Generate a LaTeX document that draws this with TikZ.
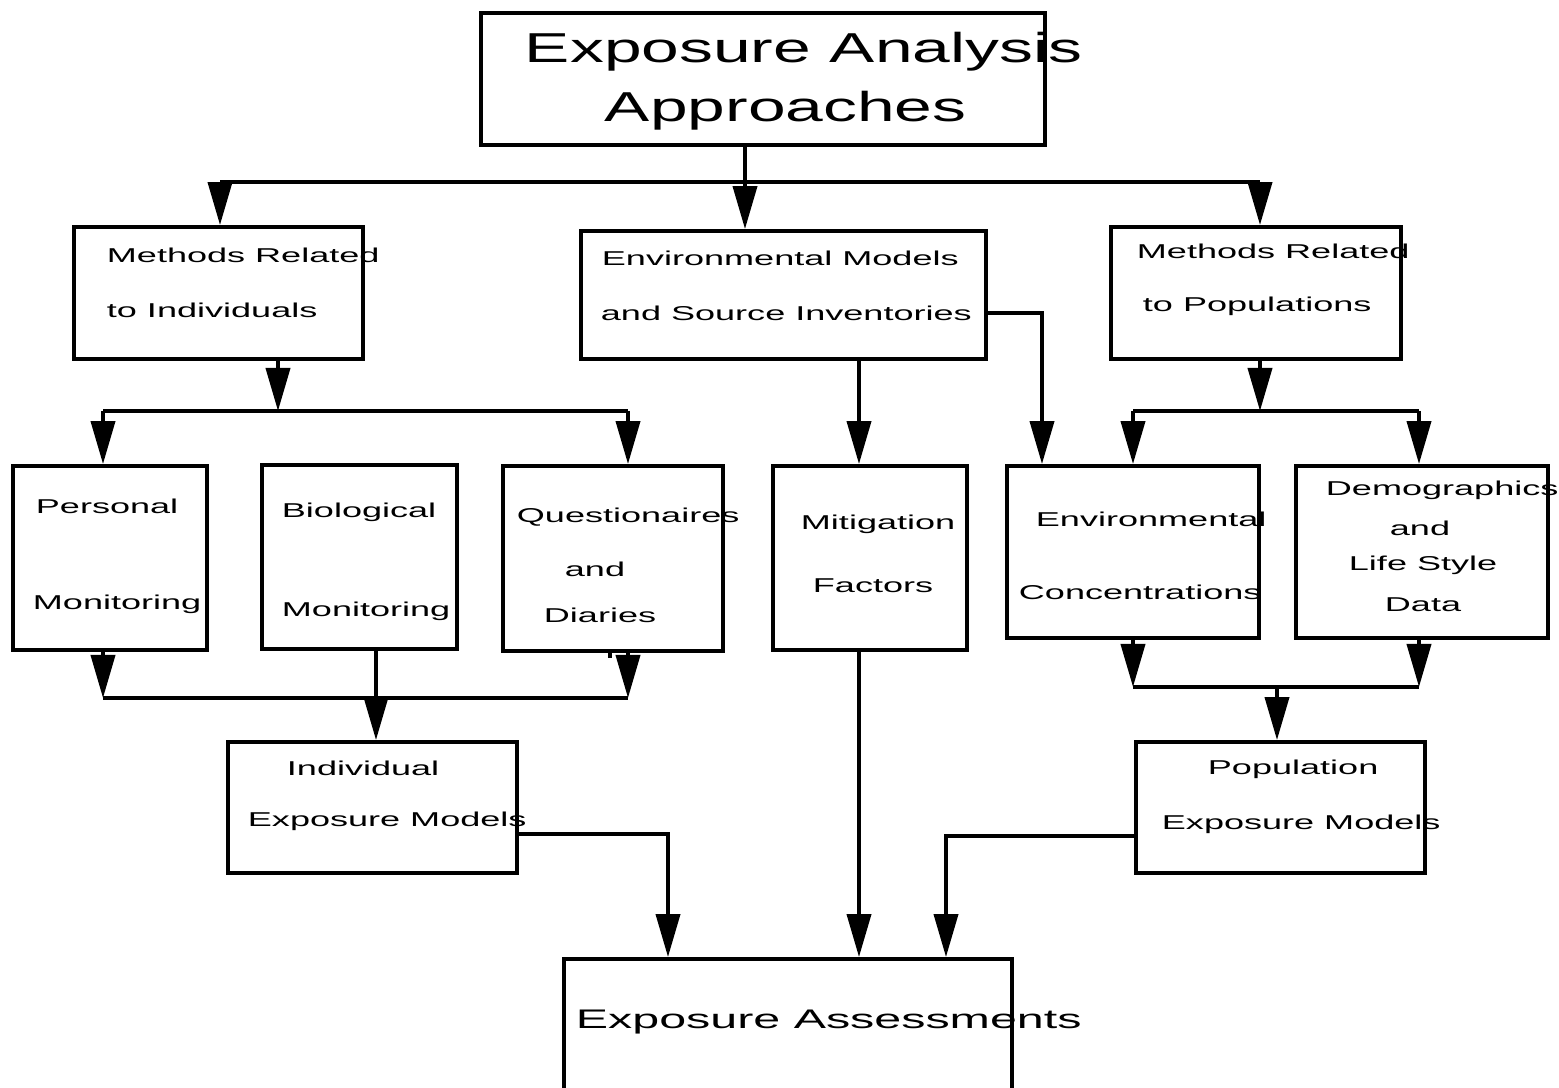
\documentclass[tikz,border=0pt]{standalone}
\usepackage{fontspec}
\usepackage{tikz}
\usetikzlibrary{arrows.meta}
\newfontfamily\boxfont[FakeStretch=1.8]{Liberation Sans}
\newfontfamily\headfont[FakeStretch=1.62]{Liberation Sans}

\begin{document}
\begin{tikzpicture}[x=0.1mm, y=-0.1mm, line width=1.1pt]
        \tikzstyle{box}=[draw, rectangle, inner sep=0pt, line width=1.1pt]
        \tikzstyle{lbl}=[anchor=base west, inner sep=0pt, font=\boxfont\fontsize{5.7pt}{6pt}\selectfont]
        \tikzstyle{head}=[anchor=base west, inner sep=0pt, font=\headfont\fontsize{11.9pt}{13pt}\selectfont]
        \tikzstyle{foot}=[anchor=base west, inner sep=0pt, font=\boxfont\fontsize{7.65pt}{8pt}\selectfont]
        \tikzstyle{arr}=[-{Triangle[length=4.3mm, width=2.4mm]}]
        \useasboundingbox (0,0) rectangle (1559,1088);
        % boxes
        \node [box, minimum width=56.4mm, minimum height=13.2mm] (top) at (763, 79) {};
        \node [box, minimum width=28.9mm, minimum height=13.2mm] (ind) at (218.5, 293) {};
        \node [box, minimum width=40.5mm, minimum height=12.8mm] (env) at (783.5, 295) {};
        \node [box, minimum width=29.0mm, minimum height=13.2mm] (pop) at (1256, 293) {};
        \node [box, minimum width=19.4mm, minimum height=18.4mm] (pers) at (110, 558) {};
        \node [box, minimum width=19.5mm, minimum height=18.4mm] (bio) at (359.5, 557) {};
        \node [box, minimum width=22.0mm, minimum height=18.5mm] (quest) at (613, 558.5) {};
        \node [box, minimum width=19.4mm, minimum height=18.4mm] (mitig) at (870, 558) {};
        \node [box, minimum width=25.2mm, minimum height=17.2mm] (conc) at (1133, 552) {};
        \node [box, minimum width=25.2mm, minimum height=17.2mm] (demo) at (1422, 552) {};
        \node [box, minimum width=28.9mm, minimum height=13.1mm] (indm) at (372.5, 807.5) {};
        \node [box, minimum width=28.9mm, minimum height=13.1mm] (popm) at (1280.5, 807.5) {};
        \node [box, minimum width=44.8mm, minimum height=17.1mm] (assess) at (788, 1044.5) {};
        % texts
        \node [head] (h1) at (523, 63) {Exposure Analysis};
        \node [head] (h2) at (603, 122) {Approaches};
        \node [lbl] (ind1) at (105, 263) {Methods Related};
        \node [lbl] (ind2) at (105, 318) {to Individuals};
        \node [lbl] (env1) at (600, 266) {Environmental Models};
        \node [lbl] (env2) at (599, 321) {and Source Inventories};
        \node [lbl] (pop1) at (1135, 259) {Methods Related};
        \node [lbl] (pop2) at (1141, 312) {to Populations};
        \node [lbl] (pers1) at (34, 514) {Personal};
        \node [lbl] (pers2) at (31, 610) {Monitoring};
        \node [lbl] (bio1) at (280, 518) {Biological};
        \node [lbl] (bio2) at (280, 617) {Monitoring};
        \node [lbl] (q1) at (515, 523) {Questionaires};
        \node [lbl] (q2) at (563, 577) {and};
        \node [lbl] (q3) at (542, 623) {Diaries};
        \node [lbl] (m1) at (799, 530) {Mitigation};
        \node [lbl] (m2) at (811, 593) {Factors};
        \node [lbl] (c1) at (1034, 527) {Environmental};
        \node [lbl] (c2) at (1017, 600) {Concentrations};
        \node [lbl] (d1) at (1324, 496) {Demographics};
        \node [lbl] (d2) at (1388, 536) {and};
        \node [lbl] (d3) at (1347, 571) {Life Style};
        \node [lbl] (d4) at (1383, 612) {Data};
        \node [lbl] (im1) at (285, 776) {Individual};
        \node [lbl] (im2) at (246, 827) {Exposure Models};
        \node [lbl] (pm1) at (1206, 775) {Population};
        \node [lbl] (pm2) at (1160, 830) {Exposure Models};
        \node [foot] (a1) at (574, 1029) {Exposure Assessments};
        % bus points
        \coordinate (tl) at (220, 182);
        \coordinate (tm) at (745, 182);
        \coordinate (tr) at (1260, 182);
        \coordinate (la) at (103, 411);
        \coordinate (lm) at (278, 411);
        \coordinate (lb) at (628, 411);
        \coordinate (ma) at (103, 698);
        \coordinate (mm) at (376, 698);
        \coordinate (mb) at (628, 698);
        \coordinate (qt) at (610, 658);
        \coordinate (em) at (859, 411);
        \coordinate (ec) at (1042, 313);
        \coordinate (ra) at (1133, 411);
        \coordinate (rm) at (1260, 411);
        \coordinate (rb) at (1419, 411);
        \coordinate (sa) at (1133, 687);
        \coordinate (sm) at (1277, 687);
        \coordinate (sb) at (1419, 687);
        \coordinate (ia) at (668, 834);
        \coordinate (pa) at (946, 836);
        % connectors
        \draw (top.south -| tm) -- (tm);
        \draw (tl) -- (tr);
        \draw[arr] (tl) -- (tl |- ind.north);
        \draw[arr] (tm) -- (tm |- env.north);
        \draw[arr] (tr) -- (tr |- pop.north);
        \draw[arr] (ind.south -| lm) -- (lm);
        \draw (la) -- (lb);
        \draw[arr] (la) -- (la |- pers.north);
        \draw[arr] (lb) -- (lb |- quest.north);
        \draw[arr] (pers.south -| ma) -- (ma);
        \draw[arr] (quest.south -| mb) -- (mb);
        \draw (quest.south -| qt) -- (qt);
        \draw (ma) -- (mb);
        \draw (bio.south -| mm) -- (mm);
        \draw[arr] (mm) -- (mm |- indm.north);
        \draw[arr] (env.south -| em) -- (em |- mitig.north);
        \draw[arr] (env.east |- ec) -- (ec) -- (ec |- conc.north);
        \draw[arr] (pop.south -| rm) -- (rm);
        \draw (ra) -- (rb);
        \draw[arr] (ra) -- (ra |- conc.north);
        \draw[arr] (rb) -- (rb |- demo.north);
        \draw[arr] (conc.south -| sa) -- (sa);
        \draw[arr] (demo.south -| sb) -- (sb);
        \draw (sa) -- (sb);
        \draw[arr] (sm) -- (sm |- popm.north);
        \draw[arr] (mitig.south -| em) -- (em |- assess.north);
        \draw[arr] (indm.east |- ia) -- (ia) -- (ia |- assess.north);
        \draw[arr] (popm.west |- pa) -- (pa) -- (pa |- assess.north);
      \end{tikzpicture}
\end{document}
